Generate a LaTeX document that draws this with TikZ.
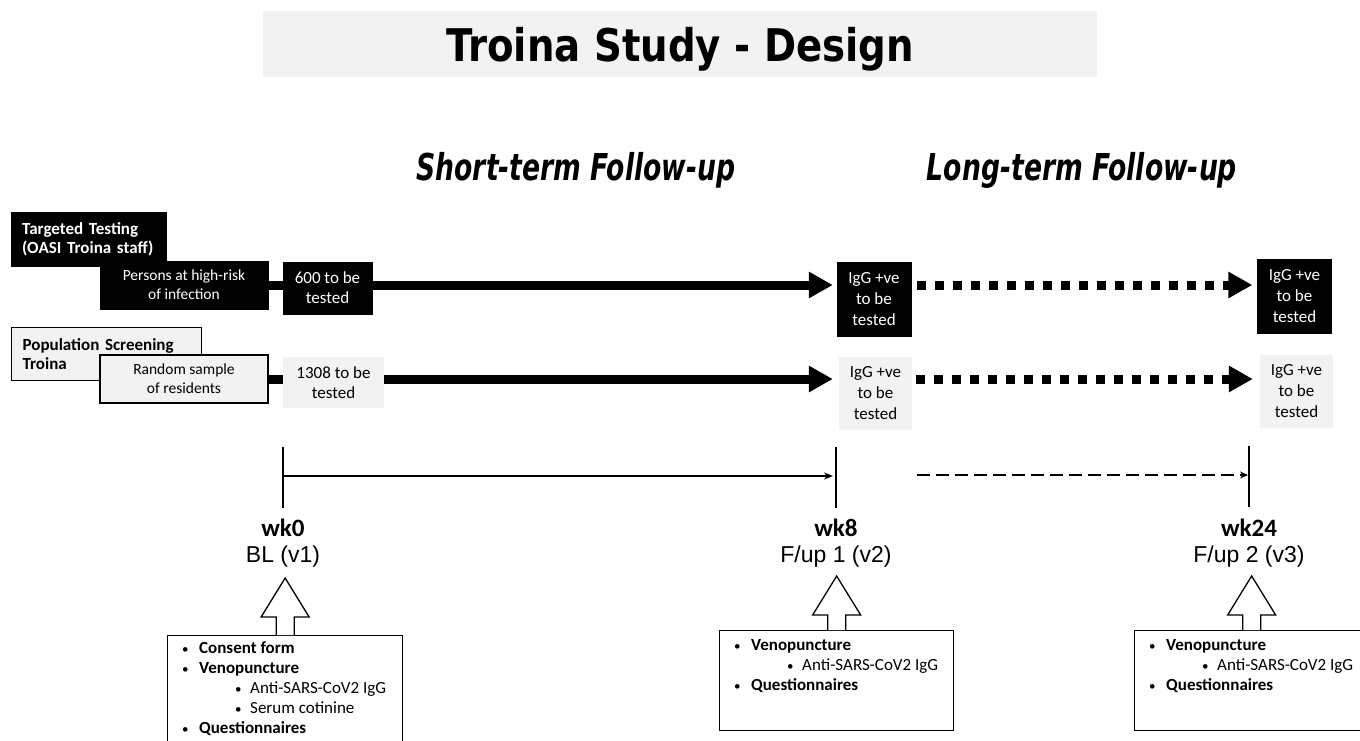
\documentclass[tikz,border=0pt]{standalone}
\usepackage{fontspec}
\setmainfont{Carlito}
\newfontfamily\titlefont[FakeStretch=0.86]{DejaVu Sans}
\newfontfamily\phasefont[FakeStretch=0.72]{DejaVu Sans}
\newfontfamily\visitfont{Liberation Sans}
\usetikzlibrary{arrows.meta}
\definecolor{boxgrey}{HTML}{F2F2F2}

\newcommand{\dotpt}{{\fontsize{13}{13}\selectfont\textbullet}}
\newcommand{\mainpt}[1]{\makebox[17pt][l]{\dotpt}\textbf{#1}}
\newcommand{\subpt}[1]{\hspace*{53pt}\makebox[15pt][l]{\dotpt}#1}

\tikzstyle{titleband} = [fill=boxgrey, minimum width=834pt, minimum height=66pt, text depth=0pt, font=\titlefont\bfseries\fontsize{45}{54}\selectfont]
\tikzstyle{phase} = [anchor=base, font=\phasefont\bfseries\itshape\fontsize{37}{44}\selectfont]
\tikzstyle{groupblack} = [rectangle, anchor=north west, fill=black, draw=black, text=white, align=left, inner xsep=11pt, font=\fontsize{17}{19}\selectfont\bfseries]
\tikzstyle{groupgrey} = [rectangle, anchor=north west, fill=boxgrey, draw=black, line width=1.2pt, align=left, inner xsep=11pt, font=\fontsize{17}{19}\selectfont\bfseries]
\tikzstyle{subblack} = [rectangle, fill=black, draw=black, text=white, align=center, minimum width=168pt, minimum height=48pt, font=\fontsize{15.5}{19}\selectfont]
\tikzstyle{subgrey} = [rectangle, fill=boxgrey, draw=black, line width=1.2pt, align=center, minimum width=168pt, minimum height=48pt, font=\fontsize{15.5}{19}\selectfont]
\tikzstyle{countblack} = [rectangle, fill=black, draw=black, text=white, align=center, font=\fontsize{17}{20}\selectfont]
\tikzstyle{countgrey} = [rectangle, fill=boxgrey, align=center, font=\fontsize{17}{20}\selectfont]
\tikzstyle{iggblack} = [countblack, minimum width=74pt, minimum height=74pt, font=\fontsize{17}{21}\selectfont]
\tikzstyle{igggrey} = [countgrey, minimum width=73pt, minimum height=73pt, font=\fontsize{17}{21}\selectfont]
\tikzstyle{thickline} = [line width=9pt]
\tikzstyle{thickarrow} = [line width=9pt, -{Triangle[length=24pt,width=25pt]}]
\tikzstyle{dotarrow} = [thickarrow, dash pattern=on 9pt off 9pt]
\tikzstyle{timearrow} = [line width=1.5pt, -{Stealth[length=9pt,width=7pt]}]
\tikzstyle{dasharrow} = [line width=2.5pt, dash pattern=on 13pt off 6pt, -{Stealth[length=8pt,width=7pt]}]
\tikzstyle{tickline} = [line width=1.3pt]
\tikzstyle{weeklabel} = [font=\fontsize{25}{30}\selectfont\bfseries]
\tikzstyle{visitlabel} = [font=\visitfont\fontsize{23}{28}\selectfont]
\tikzstyle{visitbox} = [rectangle, anchor=north west, draw=black, line width=1.3pt, minimum width=234pt, minimum height=100pt]
\tikzstyle{itemlist} = [anchor=north west, align=left, inner xsep=15pt, font=\fontsize{17}{20}\selectfont]
\tikzstyle{blockarrow} = [draw=black, fill=white, line width=1.3pt]

\begin{document}
\begin{tikzpicture}[x=1pt, y=-1pt]
\path[use as bounding box, fill=white] (0,0) rectangle (1360,740);

\node (title) [titleband] at (680,44) {Troina Study - Design};
\node (short) [phase] at (576,180) {Short-term Follow-up};
\node (long) [phase] at (1082,180) {Long-term Follow-up};

% targeted testing
\node (target) [groupblack, minimum width=155pt, minimum height=54pt, text width=133pt] at (11,212) {Targeted Testing\\(OASI Troina staff)};
\node (highrisk) [subblack] at (184,285) {Persons at high-risk\\of infection};
\node (test600) [countblack, minimum width=89pt, minimum height=52pt] at (327.5,288) {600 to be\\tested};
\node (igg8t) [iggblack] at (874,299) {IgG +ve\\to be\\tested};
\node (igg24t) [iggblack] at (1294.5,296) {IgG +ve\\to be\\tested};

\draw[thickline] (highrisk.east) -- (highrisk.east -| test600.west);
\draw[thickarrow, shorten >=4pt] (test600.east |- highrisk.east) -- (highrisk.east -| igg8t.west);
\draw[dotarrow, shorten <=6pt, shorten >=5pt] (igg8t.east |- highrisk.east) -- (highrisk.east -| igg24t.west);

% population screening
\node (screen) [groupgrey, minimum width=190pt, minimum height=53pt, text width=168pt] at (11,327) {Population Screening\\Troina};
\node (random) [subgrey] at (184,379) {Random sample\\of residents};
\node (test1308) [countgrey, minimum width=101pt, minimum height=51pt] at (333.5,382.5) {1308 to be\\tested};
\node (igg8p) [igggrey] at (875.5,393.5) {IgG +ve\\to be\\tested};
\node (igg24p) [igggrey] at (1296.5,391.5) {IgG +ve\\to be\\tested};

\draw[thickline] (random.east) -- (random.east -| test1308.west);
\draw[thickarrow, shorten >=6pt] (test1308.east |- random.east) -- (random.east -| igg8p.west);
\draw[dotarrow, shorten <=4pt, shorten >=7pt] (igg8p.east |- random.east) -- (random.east -| igg24p.west);

% timeline
\coordinate (t0) at (283,476);
\coordinate (t8) at (836,476);
\coordinate (t24) at (1249,475);
\coordinate (d8) at (917,475);
\foreach \t in {t0,t8,t24}
  \draw[tickline] (\t) ++(0,-29) -- ++(0,61);
\draw[timearrow, shorten >=3pt] (t0) -- (t8);
\draw[dasharrow, shorten >=1pt] (d8) -- (t24);

\node (wk0) [weeklabel] at (283,528) {wk0};
\node (bl) [visitlabel] at (283,557) {BL (v1)};
\node (wk8) [weeklabel] at (836,528) {wk8};
\node (fup1) [visitlabel] at (836,557) {F/up 1 (v2)};
\node (wk24) [weeklabel] at (1249,528) {wk24};
\node (fup2) [visitlabel] at (1249,557) {F/up 2 (v3)};

% visit contents
\node (box0) [visitbox, minimum width=235pt, minimum height=120pt] at (167,635) {};
\node (box8) [visitbox] at (719,630) {};
\node (box24) [visitbox] at (1134,630) {};
\foreach \b/\s in {box0/18, box8/15, box24/15}
  \draw[blockarrow] (\b.north) ++(-9,0) -- ++(0,-\s) -- ++(-15,0) -- ++(24,-39) -- ++(24,39) -- ++(-15,0) -- ++(0,\s);

\node (list0) [itemlist, inner ysep=6pt] at (box0.north west) {\mainpt{Consent form}\\\mainpt{Venopuncture}\\\subpt{Anti-SARS-CoV2 IgG}\\\subpt{Serum cotinine}\\\mainpt{Questionnaires}};
\node (list8) [itemlist, inner ysep=9pt] at (box8.north west) {\mainpt{Venopuncture}\\\subpt{Anti-SARS-CoV2 IgG}\\\mainpt{Questionnaires}};
\node (list24) [itemlist, inner ysep=9pt] at (box24.north west) {\mainpt{Venopuncture}\\\subpt{Anti-SARS-CoV2 IgG}\\\mainpt{Questionnaires}};
\end{tikzpicture}
\end{document}
